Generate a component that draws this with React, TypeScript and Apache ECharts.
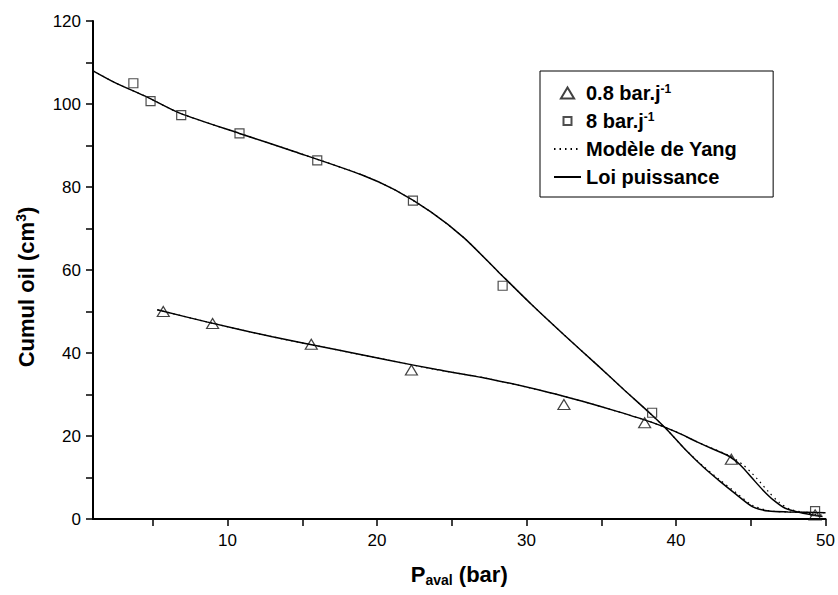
import React, { useEffect, useRef } from "react";
import * as echarts from "echarts";

// Measured points — 0.8 bar/day (triangles)
const slowX = [5.7, 9.0, 15.6, 22.3, 32.5, 37.9, 43.7, 49.3];
const slowY = [50.0, 47.1, 42.1, 35.9, 27.6, 23.2, 14.4, 1.0];

// Measured points — 8 bar/day (squares)
const fastX = [3.7, 4.85, 6.9, 10.8, 16.0, 22.4, 28.4, 38.4, 49.3];
const fastY = [105.0, 100.7, 97.3, 92.9, 86.4, 76.7, 56.2, 25.6, 1.9];

// Power-law fit curves
const powFastX = [1, 2.5, 4.6, 6.8, 10.8, 14.5, 19, 21.2, 23.6, 25.8, 28.1, 30.3, 32.5, 34.7, 36.5, 38.4, 39.4, 40.6, 41.8, 42.9, 44, 45.1, 46.2, 47.5, 50];
const powFastY = [108, 105.1, 101.7, 97.8, 92.9, 88.5, 82.9, 79.3, 74, 67.8, 59.6, 51.8, 44.4, 37.2, 31.2, 25.0, 21.5, 16.8, 12.6, 9.2, 6.0, 3.0, 1.9, 1.7, 1.5];
const powSlowX = [5.3, 8.6, 13, 17.4, 20.7, 24, 27.6, 31.5, 33.8, 36, 38.3, 40, 41.4, 42.5, 43.6, 44.3, 45.1, 45.8, 46.5, 47.3, 48.5, 49.8];
const powSlowY = [50.4, 47.5, 43.9, 40.7, 38.3, 36, 33.7, 30.5, 28.3, 26, 23.4, 21, 18.6, 16.8, 15, 13, 9.8, 7, 4.6, 2.6, 1.4, 0.6];

// Yang model curves
const yangFastX = [1, 2.5, 4.6, 6.8, 10.8, 14.5, 19, 21.2, 23.6, 25.8, 28.1, 30.3, 32.5, 34.7, 36.5, 38.4, 39.4, 40.6, 41.8, 42.9, 44, 45.1, 46.2, 47.5, 50];
const yangFastY = [108, 105.1, 101.7, 97.8, 92.9, 88.5, 82.9, 79.3, 74, 67.8, 59.6, 51.8, 44.4, 37.2, 31.2, 25.0, 21.5, 16.8, 12.8, 9.5, 6.4, 3.3, 2.0, 1.7, 1.5];
const yangSlowX = [5.3, 8.6, 13, 17.4, 20.7, 24, 27.6, 31.5, 33.8, 36, 38.3, 40, 41.4, 42.5, 43.6, 44.5, 45.4, 46.2, 46.9, 47.6, 48.5, 49.8];
const yangSlowY = [50.4, 47.5, 43.9, 40.7, 38.3, 36, 33.7, 30.5, 28.3, 26, 23.4, 21, 18.6, 16.9, 15.2, 13, 9.8, 6.5, 4.0, 2.4, 1.6, 0.9];

const xTicks = [5, 10, 15, 20, 25, 30, 35, 40, 45, 50];
const xLabels = [10, 20, 30, 40, 50];
const yLabels = [0, 20, 40, 60, 80, 100, 120];

const legendNames = ["0.8 bar.j-1", "8 bar.j-1", "Modèle de Yang", "Loi puissance"];

const zip = (xs: number[], ys: number[]) => xs.map((x, i) => [x, ys[i]]);

const FONT = '"Liberation Sans", Arial, Helvetica, sans-serif';
const TRI_ICON = "path://M0,10 L6,0 L12,10 Z";
const SQ_ICON = "path://M-1.5,-1.5 L-1.5,-1.5 M0,0 L8,0 L8,8 L0,8 Z M9.5,9.5 L9.5,9.5";

export default function App() {
  const ref = useRef<HTMLDivElement>(null);
  useEffect(() => {
    if (!ref.current) return;
    const chart = echarts.init(ref.current, undefined, { renderer: "svg" });
    const hidden = { color: "rgba(0,0,0,0)", borderWidth: 0 };
    const lineBase = { type: "line" as const, symbol: "none", showSymbol: false, smooth: 0.25, z: 2, itemStyle: hidden };
    chart.setOption({
      animation: false,
      backgroundColor: "#fff",
      textStyle: { fontFamily: FONT, color: "#000" },
      grid: { left: 93, right: 8, top: 21, bottom: 76, containLabel: false },
      xAxis: {
        type: "value",
        min: 1,
        max: 50,
        name: "{b|P}{sub|aval}{b| (bar)}",
        nameLocation: "middle",
        nameGap: 43,
        nameTextStyle: {
          rich: {
            b: { fontSize: 22, fontWeight: "bold", lineHeight: 25, fontFamily: FONT, color: "#000" },
            sub: { fontSize: 14, fontWeight: "bold", lineHeight: 9, verticalAlign: "bottom", fontFamily: FONT, color: "#000" },
          },
        },
        axisLine: { show: true, onZero: false, lineStyle: { color: "#000", width: 2 } },
        axisTick: { show: true, inside: false, length: 7, customValues: xTicks, lineStyle: { color: "#000", width: 1.5 } },
        axisLabel: { customValues: xLabels, fontSize: 17, color: "#000", margin: 13, fontFamily: FONT },
        splitLine: { show: false },
      },
      yAxis: {
        type: "value",
        min: 0,
        max: 120,
        interval: 10,
        name: "{b|Cumul oil (cm}{sup|3}{b|)}",
        nameLocation: "middle",
        nameGap: 54,
        nameTextStyle: {
          padding: [0, 34, 0, 0],
          rich: {
            b: { fontSize: 22, fontWeight: "bold", lineHeight: 25, fontFamily: FONT, color: "#000" },
            sup: { fontSize: 14, fontWeight: "bold", lineHeight: 11, verticalAlign: "top", fontFamily: FONT, color: "#000" },
          },
        },
        axisLine: { show: true, onZero: false, lineStyle: { color: "#000", width: 2 } },
        axisTick: { show: true, inside: false, length: 7, lineStyle: { color: "#000", width: 1.5 } },
        axisLabel: { customValues: yLabels, fontSize: 17, color: "#000", margin: 12, fontFamily: FONT },
        splitLine: { show: false },
      },
      legend: {
        orient: "vertical",
        left: 540,
        top: 71,
        padding: [12, 36, 10, 13],
        itemWidth: 27,
        itemHeight: 11,
        itemGap: 8,
        symbolKeepAspect: true,
        selectedMode: false,
        borderColor: "#000",
        borderWidth: 1,
        backgroundColor: "#fff",
        data: [
          { name: legendNames[0], icon: TRI_ICON },
          { name: legendNames[1], icon: SQ_ICON },
          { name: legendNames[2] },
          { name: legendNames[3] },
        ],
        formatter: (name: string) =>
          name.endsWith("-1") ? `{b|${name.slice(0, -2)}}{sup|-1}` : `{b|${name}}`,
        textStyle: {
          color: "#000",
          rich: {
            b: { fontSize: 20, fontWeight: "bold", lineHeight: 20, fontFamily: FONT, color: "#000" },
            sup: { fontSize: 12, fontWeight: "bold", lineHeight: 10, verticalAlign: "top", fontFamily: FONT, color: "#000" },
          },
        },
      },
      series: [
        { ...lineBase, name: "Modèle de Yang", data: zip(yangFastX, yangFastY), lineStyle: { color: "#000", width: 1.2, type: [1.5, 4] } },
        { ...lineBase, name: "Modèle de Yang", data: zip(yangSlowX, yangSlowY), lineStyle: { color: "#000", width: 1.2, type: [1.5, 4] } },
        { ...lineBase, name: "Loi puissance", data: zip(powFastX, powFastY), lineStyle: { color: "#000", width: 1.5 } },
        { ...lineBase, name: "Loi puissance", data: zip(powSlowX, powSlowY), lineStyle: { color: "#000", width: 1.5 } },
        {
          type: "scatter",
          name: "0.8 bar.j-1",
          symbol: "triangle",
          symbolSize: [12, 10],
          data: zip(slowX, slowY),
          itemStyle: { color: "rgba(255,255,255,0)", borderColor: "#111", borderWidth: 1.2 },
          z: 3,
        },
        {
          type: "scatter",
          name: "8 bar.j-1",
          symbol: "rect",
          symbolSize: 9,
          data: zip(fastX, fastY),
          itemStyle: { color: "rgba(255,255,255,0)", borderColor: "#222", borderWidth: 1.2 },
          z: 3,
        },
      ],
    });
    return () => chart.dispose();
  }, []);
  return <div ref={ref} style={{ width: 838, height: 595, position: "absolute", left: 0, top: 0 }} />;
}
